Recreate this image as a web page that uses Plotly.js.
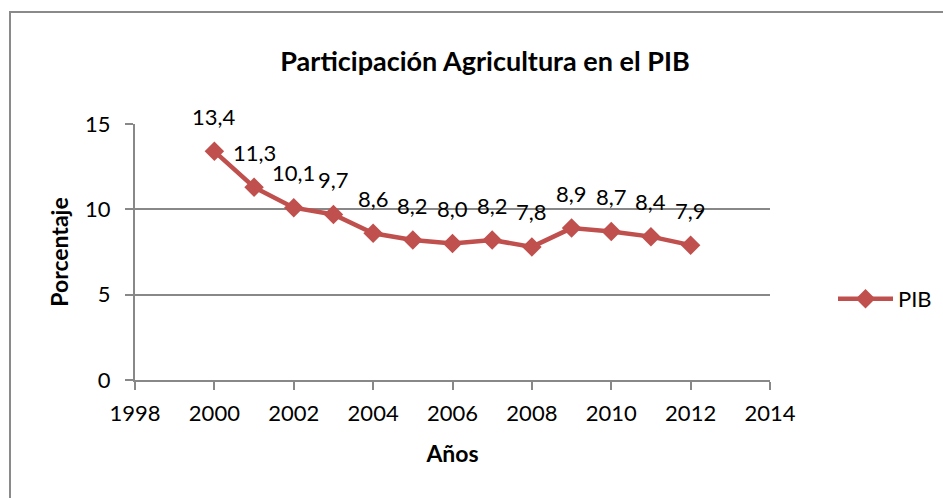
<!DOCTYPE html>
<html>
<head>
<meta charset="utf-8">
<script src="https://cdn.plot.ly/plotly-3.0.1.min.js"></script>
<style>
  html, body { margin: 0; padding: 0; background: #ffffff; }
  #chart { width: 943px; height: 498px; }
</style>
</head>
<body>
<div id="chart"></div>
<script>
// Data
const years = [2000, 2001, 2002, 2003, 2004, 2005, 2006, 2007, 2008, 2009, 2010, 2011, 2012];
const pib = [13.4, 11.3, 10.1, 9.7, 8.6, 8.2, 8.0, 8.2, 7.8, 8.9, 8.7, 8.4, 7.9];
const seriesName = "PIB";
const chartTitle = "Participación Agricultura en el PIB";
const xTitle = "Años";
const yTitle = "Porcentaje";

const FONT = "Lato, 'Open Sans', sans-serif";
const RED = "#C0504D";
const GRID = "#888888";

const fmt = v => v.toFixed(1).replace('.', ',');

const trace = {
  x: years,
  y: pib,
  type: 'scatter',
  mode: 'lines+markers',
  name: seriesName,
  line: { color: RED, width: 4.5 },
  marker: { symbol: 'diamond', size: 15, color: RED },
  cliponaxis: false
};

const annotations = years.map((yr, i) => ({
  x: yr, y: pib[i], xref: 'x', yref: 'y',
  text: fmt(pib[i]),
  showarrow: false,
  yshift: 35,
  xanchor: 'center', yanchor: 'middle',
  font: { family: FONT, size: 22, color: '#000' }
}));

const layout = {
  width: 943, height: 498,
  margin: { l: 135, r: 173, t: 124, b: 118 },
  paper_bgcolor: '#ffffff',
  plot_bgcolor: '#ffffff',
  font: { family: FONT, color: '#000' },
  title: {
    text: '<b>' + chartTitle + '</b>',
    font: { family: FONT, size: 27, color: '#000' },
    x: 485 / 943, xanchor: 'center',
    y: 1 - 62 / 498, yanchor: 'middle'
  },
  xaxis: {
    range: [1998, 2014],
    dtick: 2, tick0: 1998,
    showgrid: false,
    zeroline: false,
    showline: true, linecolor: GRID, linewidth: 2,
    ticks: 'outside', ticklen: 8, tickcolor: GRID, tickwidth: 2,
    ticklabelstandoff: 5,
    automargin: false,
    tickfont: { family: FONT, size: 22, color: '#000' },
    title: { text: '<b>' + xTitle + '</b>', font: { family: FONT, size: 23, color: '#000' }, standoff: 20 }
  },
  yaxis: {
    range: [0, 15],
    dtick: 5,
    showgrid: true, gridcolor: GRID, gridwidth: 2,
    zeroline: false,
    showline: true, linecolor: GRID, linewidth: 2,
    ticks: 'outside', ticklen: 8, tickcolor: GRID, tickwidth: 2,
    ticklabelstandoff: 10,
    automargin: false,
    tickfont: { family: FONT, size: 22, color: '#000' },
    title: { text: '<b>' + yTitle + '</b>', font: { family: FONT, size: 23, color: '#000' }, standoff: 10 }
  },
  showlegend: true,
  legend: {
    xref: 'container', yref: 'container',
    x: 833 / 943, xanchor: 'left',
    y: 1 - 299 / 498, yanchor: 'middle',
    itemwidth: 55,
    font: { family: FONT, size: 22, color: '#000' },
    bgcolor: 'rgba(0,0,0,0)'
  },
  annotations: annotations,
  shapes: [{
    type: 'rect', xref: 'paper', yref: 'paper', layer: 'below',
    x0: (10 - 135) / 635, x1: (960 - 135) / 635,
    y0: (380 - 520) / 256, y1: (380 - 12) / 256,
    line: { color: '#8a8a8a', width: 2 }
  }]
};

Plotly.newPlot('chart', [trace], layout, { displayModeBar: false, staticPlot: true });
</script>
</body>
</html>
